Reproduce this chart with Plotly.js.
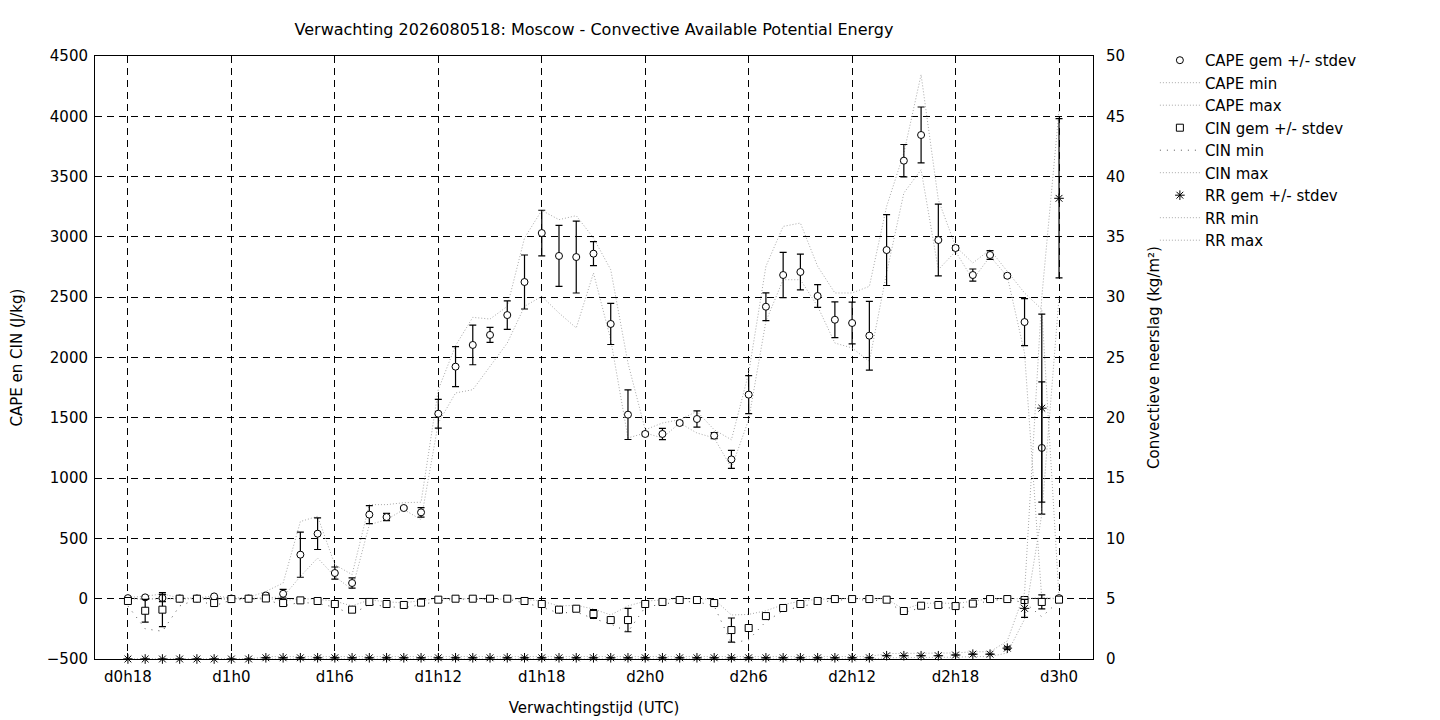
<!DOCTYPE html>
<html>
<head>
<meta charset="utf-8">
<script src="https://cdn.plot.ly/plotly-3.0.1.min.js"></script>
<style>html,body{margin:0;padding:0;background:#fff;}#chart{width:1440px;height:720px;}</style>
</head>
<body>
<div id="chart"></div>
<script>
// Forecast hours since d0h18
const hours = [0,1,2,3,4,5,6,7,8,9,10,11,12,13,14,15,16,17,18,19,20,21,22,23,24,25,26,27,28,29,30,31,32,33,34,35,36,37,38,39,40,41,42,43,44,45,46,47,48,49,50,51,52,53,54];
const tickHours = [0,6,12,18,24,30,36,42,48,54];
const tickLabels = ['d0h18','d1h0','d1h6','d1h12','d1h18','d2h0','d2h6','d2h12','d2h18','d3h0'];

const capeMean = [5,11,6,2,2,19,2,2,27,41, 365,539,213,130,697,677,752,716,1534,1924, 2104,2187,2352,2626,3032,2842,2833,2861,2278,1526, 1366,1366,1457,1490,1352,1155,1692,2421,2684,2709, 2510,2313,2286,2181,2891,3632,3845,2974,2908,2684, 2850,2678,2294,1250,5];
const capeStd = [10,10,30,0,0,5,0,0,17,36, 187,131,50,43,75,30,10,40,119,166, 164,62,118,224,189,253,298,100,170,206, 15,47,15,68,25,75,158,115,187,148, 95,148,173,285,294,134,232,298,20,50, 36,15,195,548,10];
const capeMin = [0,0,0,0,0,10,0,0,5,15, 185,337,185,75,614,655,740,655,1457,1706, 1733,1926,2120,2424,2507,2369,2245,2701,2148,1333, 1374,1333,1457,1374,1333,1084,1484,2300,2645,2645, 2424,2120,2079,1968,2701,3364,3557,2728,2880,2645, 2838,2673,2037,0,0];
const capeMax = [10,20,40,5,5,25,5,10,60,130, 640,683,282,200,780,780,796,800,1733,2098, 2333,2319,2424,2991,3220,3143,3176,2991,2728,1954, 1401,1457,1484,1553,1401,1318,1871,2756,3087,3115, 2756,2535,2535,2590,3253,3695,4345,3308,2921,2784, 2894,2714,2535,2400,10];

const cinMean = [-19,-100,-91,0,0,-36,-3,0,2,-36, -14,-19,-44,-91,-27,-44,-52,-33,-8,0, 0,0,0,-19,-44,-91,-83,-127,-177,-177, -44,-27,-11,-11,-36,-260,-243,-144,-77,-44, -19,-3,-3,-3,-8,-102,-58,-52,-61,-41, -3,-3,-11,-27,-8];
const cinStd = [5,94,141,0,0,5,0,0,0,5, 5,5,5,5,5,5,5,5,5,0, 0,0,0,5,5,5,10,37,10,97, 5,5,5,5,5,100,10,5,5,5, 5,0,0,0,5,10,5,5,5,5, 0,0,5,58,5];
const cinMin = [-60,-250,-270,-60,-5,-60,-10,-5,0,-60, -30,-40,-70,-130,-45,-65,-75,-50,-20,-3, -3,-3,-5,-35,-70,-120,-110,-165,-210,-275, -70,-45,-25,-25,-60,-370,-340,-190,-100,-65, -35,-10,-10,-10,-20,-115,-75,-70,-80,-60, -10,-10,-30,-150,-20];
const cinMax = [0,-5,0,0,0,-10,0,0,5,-15, 0,-5,-20,-60,-10,-25,-35,-15,0,0, 0,0,0,-5,-20,-60,-55,-85,-135,-60, -20,-10,0,0,-5,-135,-130,-100,-50,-20, -5,0,0,0,0,-90,-40,-35,-40,-20, 0,0,0,10,0];

const rrMean = [0,0,0,0,0,0,0,0,0.1,0.1, 0.1,0.1,0.1,0.1,0.1,0.1,0.1,0.1,0.1,0.1, 0.1,0.1,0.1,0.1,0.1,0.1,0.1,0.1,0.1,0.1, 0.1,0.1,0.1,0.1,0.1,0.1,0.1,0.1,0.1,0.1, 0.1,0.1,0.1,0.1,0.27,0.27,0.27,0.27,0.33,0.4, 0.4,0.9,4.2,20.8,38.2];
const rrStd = [0,0,0,0,0,0,0,0,0,0, 0,0,0,0,0,0,0,0,0,0, 0,0,0,0,0,0,0,0,0,0, 0,0,0,0,0,0,0,0,0,0, 0,0,0,0,0,0,0,0,0,0, 0,0.1,0.75,7.8,6.6];
const rrMin = [0,0,0,0,0,0,0,0,0,0, 0,0,0,0,0,0,0,0,0,0, 0,0,0,0,0,0,0,0,0,0, 0,0,0,0,0,0,0,0,0,0, 0,0,0,0,0.1,0.1,0.1,0.1,0.15,0.2, 0.2,0.5,3.3,12,30];
const rrMax = [0,0,0,0,0,0,0,0,0.2,0.2, 0.2,0.2,0.2,0.2,0.2,0.2,0.2,0.2,0.2,0.2, 0.2,0.2,0.2,0.2,0.2,0.2,0.2,0.2,0.2,0.2, 0.2,0.2,0.2,0.2,0.2,0.2,0.2,0.2,0.2,0.2, 0.2,0.2,0.2,0.2,0.45,0.45,0.45,0.45,0.5,0.6, 0.6,1.5,5.5,30,45.5];

const FONT = 'DejaVu Sans, Liberation Sans, sans-serif';
const dotLine = {color: '#a8a8a8', width: 1, dash: '1px,2px'};
const sparseLine = {color: '#555555', width: 1, dash: '1px,6px'};

function band(name, y, rank, line, axis) {
  return {x: hours, y: y, name: name, type: 'scatter', mode: 'lines', line: line,
          yaxis: axis || 'y', legendrank: rank, hoverinfo: 'skip'};
}
function mean(name, y, err, symbol, size, rank, axis) {
  const star = symbol.indexOf('asterisk') === 0;
  return {x: hours, y: y, name: name, type: 'scatter', mode: 'markers', yaxis: axis || 'y',
          legendrank: rank, cliponaxis: false,
          marker: {symbol: symbol, size: size, color: star ? 'black' : 'white',
                   line: {color: 'black', width: 1}},
          error_y: {type: 'data', array: err, visible: true, color: 'black', thickness: 1.2, width: 3.5}};
}

const data = [
  band('CAPE min', capeMin, 2, dotLine),
  band('CAPE max', capeMax, 3, dotLine),
  band('CIN min', cinMin, 5, sparseLine),
  band('CIN max', cinMax, 6, dotLine),
  band('RR min', rrMin, 8, dotLine, 'y2'),
  band('RR max', rrMax, 9, dotLine, 'y2'),
  mean('CAPE gem +/- stdev', capeMean, capeStd, 'circle', 7, 1),
  mean('CIN gem +/- stdev', cinMean, cinStd, 'square', 7, 4),
  mean('RR gem +/- stdev', rrMean, rrStd, 'asterisk-open', 8, 7, 'y2')
];

const layout = {
  width: 1440, height: 720,
  margin: {l: 95, r: 347, t: 56, b: 61},
  paper_bgcolor: '#fff', plot_bgcolor: '#fff',
  font: {family: FONT, size: 15, color: '#000'},
  title: {text: 'Verwachting 2026080518: Moscow - Convective Available Potential Energy',
          x: 0.5, xref: 'paper', xanchor: 'center', y: 1 - 29/720, yref: 'container', yanchor: 'middle',
          font: {family: FONT, size: 16, color: '#000'}},
  showlegend: true,
  legend: {x: 1.062, xanchor: 'left', y: 1.02, yanchor: 'top', traceorder: 'normal',
           font: {family: FONT, size: 15, color: '#000'}, bgcolor: 'rgba(0,0,0,0)',
           tracegroupgap: 0, itemwidth: 40},
  xaxis: {range: [-1.91, 55.97], tickvals: tickHours, ticktext: tickLabels,
          showgrid: true, gridcolor: '#000', gridwidth: 1, griddash: '7px,5px',
          showline: true, linecolor: '#000', linewidth: 1, mirror: true,
          ticks: 'inside', ticklen: 6, tickcolor: '#000', zeroline: false, ticklabelstandoff: 4,
          title: {text: 'Verwachtingstijd (UTC)', standoff: 17, font: {family: FONT, size: 15}}},
  yaxis: {range: [-500, 4500], dtick: 500, tick0: -500,
          showgrid: true, gridcolor: '#000', gridwidth: 1, griddash: '7px,5px',
          showline: true, linecolor: '#000', linewidth: 1,
          ticks: 'inside', ticklen: 6, tickcolor: '#000', zeroline: false, ticklabelstandoff: 3,
          title: {text: 'CAPE en CIN (J/kg)', standoff: 20, font: {family: FONT, size: 15}}},
  yaxis2: {range: [0, 50], dtick: 5, overlaying: 'y', side: 'right', showgrid: false,
           showline: true, linecolor: '#000', linewidth: 1,
           ticks: 'inside', ticklen: 6, tickcolor: '#000', zeroline: false, ticklabelstandoff: 9,
           title: {text: 'Convectieve neerslag (kg/m²)', standoff: 24, font: {family: FONT, size: 15}}}
};

Plotly.newPlot('chart', data, layout, {displayModeBar: false, staticPlot: true});
</script>
</body>
</html>
